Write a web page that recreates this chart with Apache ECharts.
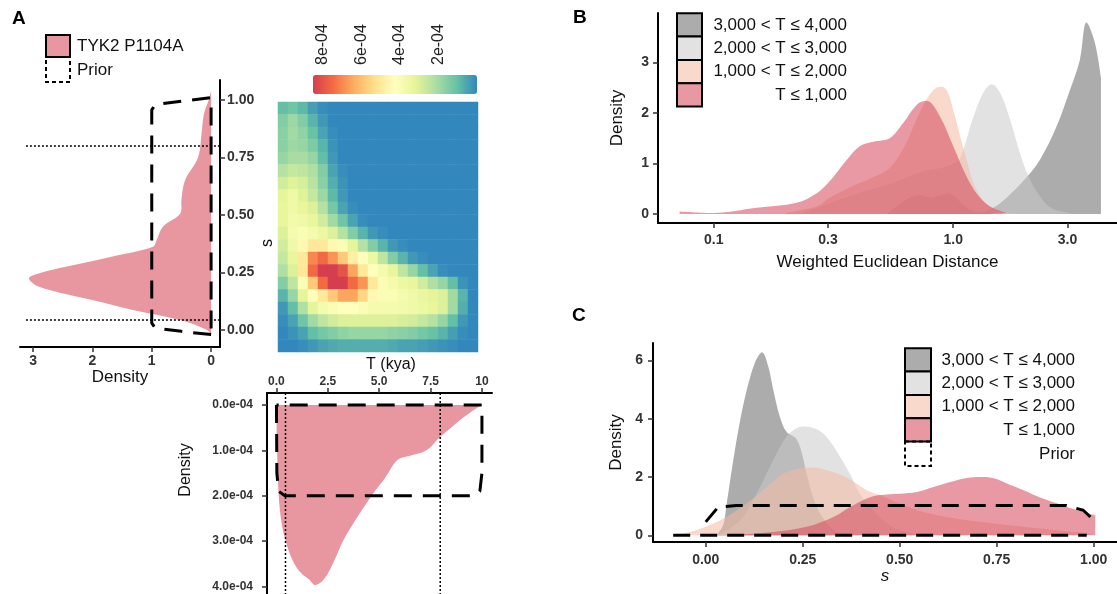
<!DOCTYPE html>
<html>
<head>
<meta charset="utf-8">
<script src="https://cdn.jsdelivr.net/npm/echarts@6/dist/echarts.min.js"></script>
<style>
  html, body { margin: 0; padding: 0; background: #fff; }
  #chart { width: 1117px; height: 594px; }
</style>
</head>
<body>
<div id="chart"></div>
<script>
var FONT = '"Liberation Sans", Arial, Helvetica, sans-serif';

// ---- panel A, marginal posterior of s ----
var sValues  = [-0.02, 0.0, 0.043, 0.087, 0.13, 0.188, 0.225, 0.25, 0.275, 0.32, 0.362, 0.39, 0.45, 0.507, 0.565, 0.65, 0.75, 0.856, 0.94, 1.0, 1.04];
var sDensity = [0, 0.07, 0.52, 1.32, 2.0, 2.9, 3.07, 2.85, 2.45, 1.66, 0.98, 0.92, 0.81, 0.52, 0.5, 0.44, 0.22, 0.16, 0.12, 0.04, 0];
var sPriorDensity = [0, 0.5, 0.94, 1.0, 1.0, 0.94, 0.5, 0, 0];
var sPriorS       = [-0.02, -0.006, 0.008, 0.03, 0.957, 0.98, 0.995, 1.01, -0.02];
var sInterval = [0.043, 0.8];
var sTicks = [0, 0.25, 0.5, 0.75, 1];
var sDensTicks = [0, 1, 2, 3];

// ---- panel A, marginal posterior of T (density in 1e-04) ----
var tValues  = [0, 0.03, 0.11, 0.25, 0.45, 0.8, 1.22, 1.62, 1.87, 2.2, 2.5, 2.85, 3.24, 3.9, 4.63, 5.3, 5.9, 6.5, 7.3, 7.97, 8.5, 8.94, 9.6, 10.0];
var tDensity = [0, 1.0, 2.0, 2.6, 3.0, 3.44, 3.72, 3.86, 3.97, 3.9, 3.72, 3.4, 3.0, 2.5, 2.0, 1.6, 1.21, 1.12, 1.0, 0.7, 0.5, 0.33, 0.11, 0];
var tPriorT       = [0, 0.02, 0.1, 0.4, 9.6, 9.9, 10.0, 10.0, 0];
var tPriorDensity = [0, 1.5, 1.9, 2.0, 2.0, 1.9, 1.5, 0, 0];
var tInterval = [0.44, 7.97];
var tTicks = [0, 2.5, 5, 7.5, 10];
var tTickLabels = ['0.0', '2.5', '5.0', '7.5', '10'];
var tDensTicks = [0, 1e-4, 2e-4, 3e-4, 4e-4];

// ---- panel A, joint density of T and s (1e-04), rows from high s to low s ----
var heatT = [0.25, 0.75, 1.25, 1.75, 2.25, 2.75, 3.25, 3.75, 4.25, 4.75, 5.25, 5.75, 6.25, 6.75, 7.25, 7.75, 8.25, 8.75, 9.25, 9.75];
var heatS = [0.97, 0.92, 0.86, 0.81, 0.75, 0.70, 0.64, 0.59, 0.53, 0.48, 0.43, 0.37, 0.32, 0.26, 0.21, 0.15, 0.10, 0.05, -0.01, -0.06];
var heatDensity = [
  [1.0,1.2,0.9,0.4,0.1,0,0,0,0,0,0,0,0,0,0,0,0,0,0,0],
  [1.5,1.9,1.5,0.8,0.3,0,0,0,0,0,0,0,0,0,0,0,0,0,0,0],
  [1.6,2.0,1.7,1.1,0.5,0.1,0,0,0,0,0,0,0,0,0,0,0,0,0,0],
  [1.6,1.9,1.8,1.4,0.8,0.2,0,0,0,0,0,0,0,0,0,0,0,0,0,0],
  [1.8,2.1,2.1,1.8,1.0,0.3,0,0,0,0,0,0,0,0,0,0,0,0,0,0],
  [2.3,2.6,2.5,2.2,1.5,0.5,0.1,0,0,0,0,0,0,0,0,0,0,0,0,0],
  [2.8,3.1,2.9,2.4,1.6,0.7,0.2,0,0,0,0,0,0,0,0,0,0,0,0,0],
  [3.2,3.6,3.1,2.6,1.9,0.9,0.3,0,0,0,0,0,0,0,0,0,0,0,0,0],
  [3.3,3.6,3.3,3.0,2.3,1.3,0.5,0.1,0,0,0,0,0,0,0,0,0,0,0,0],
  [3.3,3.7,3.6,3.3,2.8,2.0,1.2,0.5,0.1,0,0,0,0,0,0,0,0,0,0,0],
  [3.0,3.8,4.0,3.8,3.5,3.0,2.3,1.5,0.8,0.3,0.1,0,0,0,0,0,0,0,0,0],
  [2.8,3.6,4.5,5.0,5.0,4.5,4.0,3.2,2.3,1.5,0.8,0.3,0.1,0,0,0,0,0,0,0],
  [2.6,3.3,5.0,7.0,7.5,6.8,5.8,4.8,4.2,3.5,2.5,1.5,0.8,0.3,0.1,0,0,0,0,0],
  [2.2,3.0,5.0,7.5,8.5,8.8,8.0,6.5,5.0,4.3,3.8,3.3,2.5,1.8,1.0,0.5,0.1,0,0,0],
  [1.5,2.5,4.0,5.8,7.5,8.5,8.5,7.5,6.8,5.0,4.0,3.8,3.5,3.3,2.8,2.2,1.8,1.0,0.2,0],
  [0.8,1.8,3.2,4.3,5.0,5.8,6.5,6.5,5.5,4.5,4.0,4.0,3.8,3.6,3.4,3.2,3.0,2.0,0.8,0],
  [0.3,1.0,2.2,3.2,3.8,4.0,4.2,4.2,4.0,3.8,3.8,3.8,3.7,3.6,3.5,3.3,3.0,2.0,0.7,0],
  [0.1,0.5,1.2,2.0,2.5,2.8,3.0,3.0,3.0,3.0,3.0,3.0,2.9,2.8,2.6,2.3,1.8,1.0,0.3,0],
  [0,0.2,0.5,1.0,1.3,1.5,1.7,1.8,1.8,1.8,1.8,1.7,1.6,1.5,1.3,1.1,0.8,0.4,0.1,0],
  [0,0,0.1,0.3,0.5,0.6,0.7,0.7,0.7,0.7,0.7,0.6,0.5,0.5,0.4,0.3,0.2,0.1,0,0]
];
var colorbarTicks = [2e-4, 4e-4, 6e-4, 8e-4];

// ---- panel B, weighted Euclidean distance by age bin ----
var groupNames = ['3,000 < T \u2264 4,000', '2,000 < T \u2264 3,000', '1,000 < T \u2264 2,000', 'T \u2264 1,000'];
var bDist4000 = [0.527, 0.6, 0.67, 0.74, 0.81, 0.87, 0.95, 1.02, 1.1, 1.2, 1.3, 1.47, 1.67, 1.96, 2.3, 2.7, 3.07, 3.38, 3.6, 3.9, 4.14];
var bDens4000 = [0, 0.2, 0.34, 0.37, 0.32, 0.36, 0.41, 0.34, 0.18, 0.06, 0.03, 0.12, 0.32, 0.65, 1.07, 1.73, 2.45, 3.05, 3.79, 3.4, 2.7];
var bDist3000 = [0.229, 0.3, 0.394, 0.543, 0.75, 0.908, 1.0, 1.067, 1.21, 1.335, 1.45, 1.57, 1.72, 1.9, 2.06, 2.3, 2.6, 3.2];
var bDens3000 = [0, 0.2, 0.4, 0.6, 0.85, 0.92, 1.0, 1.1, 1.9, 2.4, 2.57, 2.4, 1.9, 1.2, 0.75, 0.35, 0.1, 0.01];
var bDist2000 = [0.2, 0.27, 0.3, 0.36, 0.46, 0.54, 0.62, 0.7, 0.77, 0.85, 0.9, 0.95, 1.0, 1.137, 1.25, 1.42, 1.67, 2.0];
var bDens2000 = [0.02, 0.15, 0.3, 0.5, 0.72, 0.9, 1.3, 1.85, 2.25, 2.5, 2.52, 2.4, 2.06, 1.07, 0.48, 0.15, 0.03, 0];
var bDist1000 = [0.072, 0.1, 0.151, 0.222, 0.269, 0.3, 0.359, 0.407, 0.463, 0.543, 0.618, 0.703, 0.774, 0.88, 1.0, 1.137, 1.25, 1.42, 1.67];
var bDens1000 = [0.05, 0.02, 0.12, 0.22, 0.41, 0.61, 1.07, 1.34, 1.43, 1.5, 1.8, 2.16, 2.24, 1.93, 1.34, 0.74, 0.41, 0.15, 0.02];
var bTicks = [0.1, 0.3, 1.0, 3.0];
var bTickLabels = ['0.1', '0.3', '1.0', '3.0'];
var bDensTicks = [0, 1, 2, 3];

// ---- panel C, posterior of s by age bin ----
var cS4000 = [0.028, 0.045, 0.053, 0.07, 0.088, 0.105, 0.126, 0.145, 0.161, 0.174, 0.191, 0.208, 0.234, 0.25, 0.26, 0.286, 0.32, 0.346, 0.38];
var cD4000 = [0, 0.35, 1.0, 2.5, 3.9, 4.95, 5.9, 6.28, 5.8, 4.99, 4.07, 3.55, 3.3, 2.7, 2.1, 0.97, 0.29, 0.06, 0];
var cS3000 = [0.03, 0.088, 0.131, 0.174, 0.208, 0.234, 0.251, 0.286, 0.311, 0.346, 0.372, 0.397, 0.432, 0.475, 0.518, 0.57];
var cD3000 = [0, 0.5, 1.43, 2.58, 3.38, 3.67, 3.73, 3.64, 3.38, 2.7, 2.1, 1.43, 0.86, 0.34, 0.11, 0];
var cS2000 = [-0.084, -0.041, 0.0, 0.053, 0.105, 0.157, 0.2, 0.243, 0.277, 0.311, 0.363, 0.415, 0.449, 0.5, 0.561, 0.647, 0.733, 0.819, 0.905, 0.982, 1.0];
var cD2000 = [0, 0.11, 0.29, 0.63, 1.09, 1.66, 2.12, 2.29, 2.33, 2.24, 1.98, 1.55, 1.38, 1.09, 0.8, 0.57, 0.42, 0.29, 0.17, 0.08, 0.05];
var cS1000 = [-0.007, 0.088, 0.174, 0.26, 0.329, 0.372, 0.415, 0.449, 0.5, 0.544, 0.587, 0.63, 0.673, 0.71, 0.745, 0.776, 0.819, 0.862, 0.905, 0.948, 0.991, 1.004];
var cD1000 = [0, 0.03, 0.11, 0.29, 0.63, 0.97, 1.26, 1.38, 1.43, 1.49, 1.66, 1.83, 1.97, 2.0, 1.95, 1.78, 1.55, 1.3, 1.1, 0.9, 0.73, 0.69];
var cPriorArcS = [0.0, 0.032, 0.079, 0.93, 0.973, 0.992, 1.004];
var cPriorArcD = [0.46, 0.97, 1.02, 1.02, 0.86, 0.62, 0.41];
var cPriorBaseS = [-0.084, 0.982];
var cPriorBaseD = [0, 0];
var cTicks = [0, 0.25, 0.5, 0.75, 1];
var cDensTicks = [0, 2, 4, 6];

var groupFill = ['rgba(104,104,104,0.55)', 'rgba(202,202,202,0.55)', 'rgba(244,186,162,0.55)', 'rgba(213,70,90,0.55)'];
var groupKey  = ['#acacac', '#e2e2e2', '#f9d9cc', '#e898a3'];
var pinkA = '#e8969f';
var spectral = ['#3288bd', '#66c2a5', '#abdda4', '#e6f598', '#ffffbf', '#fee08b', '#fdae61', '#f46d43', '#d53e4f'];

function pairs(xs, ys, fx) {
  return xs.map(function (x, i) { return [fx ? fx(x) : x, ys[i]]; });
}

function numAxis(o) {
  return {
    type: 'value', gridIndex: o.grid, min: o.min, max: o.max, inverse: !!o.inverse,
    position: o.position,
    name: o.name || '', nameLocation: 'middle', nameGap: o.nameGap || 0,
    nameTextStyle: { fontFamily: FONT, fontSize: 17, color: '#111', fontStyle: o.italic ? 'italic' : 'normal' },
    axisLine: { show: true, onZero: false, lineStyle: { color: '#000', width: 2 } },
    axisTick: { show: true, length: 5, customValues: o.ticks, lineStyle: { color: '#333', width: 1.5 } },
    axisLabel: {
      show: true, customValues: o.ticks, margin: o.margin, fontFamily: FONT,
      fontSize: o.fontSize || 14, fontWeight: 'bold', color: '#333', formatter: o.format
    },
    splitLine: { show: false }
  };
}

function hiddenAxis(grid, extra) {
  var a = { type: 'value', gridIndex: grid, show: false, splitLine: { show: false } };
  for (var k in extra) a[k] = extra[k];
  return a;
}

function lookupLabel(values, labels) {
  return function (v) {
    for (var i = 0; i < values.length; i++) {
      if (Math.abs(values[i] - v) < 1e-6) return labels[i];
    }
    return '';
  };
}

function dashed(xi, yi, data, dash, width) {
  return {
    type: 'line', xAxisIndex: xi, yAxisIndex: yi, data: data, symbol: 'none', silent: true,
    lineStyle: { color: '#000', width: width, type: dash }
  };
}

function area(xi, yi, data, fill) {
  return {
    type: 'line', xAxisIndex: xi, yAxisIndex: yi, data: data, symbol: 'none', silent: true,
    smooth: 0.35,
    lineStyle: { width: 0 }, areaStyle: { color: fill, opacity: 1 }
  };
}

var heatData = [];
heatDensity.forEach(function (row, r) {
  row.forEach(function (v, c) { heatData.push([c, r, v * 1e-4]); });
});

var bLog = function (d) { return Math.log10(d); };

var xAxes = [
  numAxis({ grid: 0, min: -0.15, max: 3.22, inverse: true, position: 'bottom', ticks: sDensTicks, margin: 7,
    name: 'Density', nameGap: 22, format: function (v) { return String(v); } }),
  { type: 'category', gridIndex: 1, data: heatT, show: false },
  hiddenAxis(2, { show: true, min: 0, max: 8.5e-4, inverse: true, position: 'top',
    axisLine: { show: false }, axisTick: { show: false },
    axisLabel: { customValues: colorbarTicks, rotate: 90, margin: 10, fontFamily: FONT, fontSize: 16, color: '#222',
      formatter: function (v) { return (v * 1e4).toFixed(0) + 'e-04'; } } }),
  numAxis({ grid: 3, min: -0.46, max: 10.49, position: 'top', ticks: tTicks, margin: 5, fontSize: 12,
    format: lookupLabel(tTicks, tTickLabels) }),
  numAxis({ grid: 4, min: -1.233, max: 0.684, position: 'bottom', ticks: bTicks.map(bLog), margin: 10,
    name: 'Weighted Euclidean Distance', nameGap: 31, format: lookupLabel(bTicks.map(bLog), bTickLabels) }),
  numAxis({ grid: 5, min: -0.136, max: 1.06, position: 'bottom', ticks: cTicks, margin: 11,
    name: 's', italic: true, nameGap: 26, format: function (v) { return v.toFixed(2); } })
];

var yAxes = [
  numAxis({ grid: 0, min: -0.074, max: 1.087, position: 'right', ticks: sTicks, margin: 7,
    format: function (v) { return v.toFixed(2); } }),
  { type: 'category', gridIndex: 1, data: heatS, inverse: true, show: false },
  hiddenAxis(2, { min: 0, max: 1 }),
  numAxis({ grid: 3, min: -0.265e-4, max: 4.17e-4, inverse: true, position: 'left', ticks: tDensTicks, margin: 14,
    fontSize: 12, format: function (v) { return (v * 1e4).toFixed(1) + 'e-04'; } }),
  numAxis({ grid: 4, min: -0.18, max: 3.98, position: 'left', ticks: bDensTicks, margin: 9,
    name: 'Density', nameGap: 32, format: function (v) { return String(v); } }),
  numAxis({ grid: 5, min: -0.23, max: 6.6, position: 'left', ticks: cDensTicks, margin: 10,
    name: 'Density', nameGap: 28, format: function (v) { return String(v); } })
];

var series = [];

// A: s marginal, filled towards density 0
series.push({
  type: 'custom', xAxisIndex: 0, yAxisIndex: 0, silent: true, data: [[0, 0]],
  renderItem: function (params, api) {
    var pts = sDensity.map(function (d, i) { return api.coord([d, sValues[i]]); });
    var lo = [Infinity, Infinity], hi = [-Infinity, -Infinity];
    pts.forEach(function (p) {
      lo = [Math.min(lo[0], p[0]), Math.min(lo[1], p[1])];
      hi = [Math.max(hi[0], p[0]), Math.max(hi[1], p[1])];
    });
    return {
      type: 'polygon',
      shape: { points: pts, smooth: 0.35, smoothConstraint: [lo, hi] },
      style: { fill: pinkA }
    };
  }
});
series.push(dashed(0, 0, pairs(sPriorDensity, sPriorS), [18, 11], 3));
sInterval.forEach(function (s) {
  series.push(dashed(0, 0, [[3.12, s], [-0.15, s]], [2, 2], 1.5));
});

// A: joint density
var heatIndex = series.length;
series.push({
  type: 'heatmap', xAxisIndex: 1, yAxisIndex: 1, data: heatData, silent: true,
  itemStyle: { borderWidth: 0 }, emphasis: { disabled: true }
});

// A: T marginal
series.push(area(3, 3, pairs(tValues, tDensity.map(function (d) { return d * 1e-4; })), pinkA));
series.push(dashed(3, 3, pairs(tPriorT, tPriorDensity.map(function (d) { return d * 1e-4; })), [18, 11], 3));
tInterval.forEach(function (t) {
  series.push(dashed(3, 3, [[t, -0.265e-4], [t, 4.17e-4]], [2, 2], 1.5));
});

// B
series.push(area(4, 4, pairs(bDist4000, bDens4000, bLog), groupFill[0]));
series.push(area(4, 4, pairs(bDist3000, bDens3000, bLog), groupFill[1]));
series.push(area(4, 4, pairs(bDist2000, bDens2000, bLog), groupFill[2]));
series.push(area(4, 4, pairs(bDist1000, bDens1000, bLog), groupFill[3]));

// C, prior under the filled densities
series.push(dashed(5, 5, pairs(cPriorArcS, cPriorArcD), [17, 10], 3));
series.push(dashed(5, 5, pairs(cPriorBaseS, cPriorBaseD), [17, 10], 3));
series.push(area(5, 5, pairs(cS4000, cD4000), groupFill[0]));
series.push(area(5, 5, pairs(cS3000, cD3000), groupFill[1]));
series.push(area(5, 5, pairs(cS2000, cD2000), groupFill[2]));
series.push(area(5, 5, pairs(cS1000, cD1000), groupFill[3]));

function txt(x, y, s, o) {
  o = o || {};
  return {
    type: 'text', x: x, y: y, rotation: o.rotation || 0, silent: true,
    style: {
      text: s, fontFamily: FONT, fontSize: o.size || 17, fontWeight: o.weight || 'normal',
      fill: o.color || '#111', align: o.align || 'left', verticalAlign: 'middle'
    }
  };
}

function box(x, y, w, h, fill, dash) {
  return {
    type: 'rect', silent: true, shape: { x: x, y: y, width: w, height: h },
    style: { fill: fill || 'none', stroke: '#000', lineWidth: 2, lineDash: dash || null }
  };
}

var graphics = [
  txt(12, 19, 'A', { size: 19, weight: 'bold', color: '#000' }),
  txt(573, 18, 'B', { size: 19, weight: 'bold', color: '#000' }),
  txt(572, 316, 'C', { size: 19, weight: 'bold', color: '#000' }),
  box(46, 35, 24, 22, pinkA),
  box(46, 57, 24, 25, null, [4, 3]),
  txt(77, 46, 'TYK2 P1104A'),
  txt(77, 70, 'Prior'),
  txt(391, 365, 'T (kya)', { size: 16, align: 'center' }),
  txt(186, 470, 'Density', { size: 16, align: 'center', rotation: Math.PI / 2 }),
  txt(268, 243, 's', { size: 16, align: 'center', rotation: Math.PI / 2 })
];
groupNames.forEach(function (name, i) {
  graphics.push(box(677, 13.3 + i * 23.3, 25, 23.3, groupKey[i]));
  graphics.push(txt(847, 25 + i * 23.3, name, { align: 'right' }));
  graphics.push(box(905, 348.3 + i * 23.3, 26, 23.3, groupKey[i]));
  graphics.push(txt(1075, 360 + i * 23.3, name, { align: 'right' }));
});
graphics.push(box(905, 441.5, 26, 24.5, null, [4, 3]));
graphics.push(txt(1075, 454, 'Prior', { align: 'right' }));

var options = {
  backgroundColor: '#fff',
  animation: false,
  grid: [
    { left: 20, top: 80, width: 200, height: 267 },
    { left: 278, top: 102, width: 200, height: 250 },
    { left: 313, top: 75, width: 164, height: 19 },
    { left: 267, top: 393, width: 225, height: 201 },
    { left: 658, top: 13, width: 459, height: 210 },
    { left: 653, top: 343, width: 464, height: 199 }
  ],
  xAxis: xAxes,
  yAxis: yAxes,
  visualMap: {
    type: 'continuous', seriesIndex: heatIndex, dimension: 2, min: 0, max: 8.5e-4,
    orient: 'horizontal', inverse: true, left: 313, top: 75, itemWidth: 19, itemHeight: 164,
    padding: 0, calculable: false, hoverLink: false, text: null,
    inRange: { color: spectral }
  },
  graphic: graphics,
  series: series
};

var chart = echarts.init(document.getElementById('chart'));
chart.setOption(options);
</script>
</body>
</html>
